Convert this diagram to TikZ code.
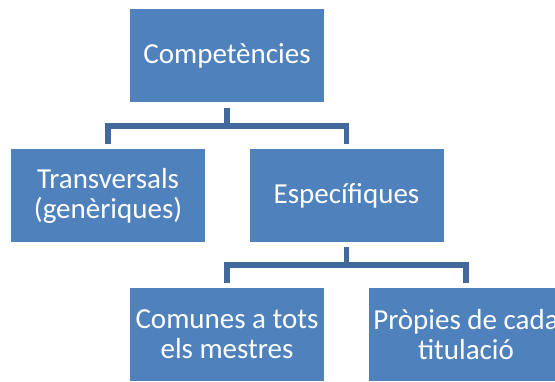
\documentclass[tikz,border=0pt]{standalone}
\usepackage{fontspec}
\setmainfont{Carlito}
\definecolor{boxblue}{HTML}{4F81BD}
\definecolor{lineblue}{HTML}{41699B}

\begin{document}
\begin{tikzpicture}[x=0.75pt, y=-0.75pt,
    every node/.style={font=\fontsize{21.75}{22.5}\selectfont},
    box/.style={rectangle, fill=boxblue, text=white, align=center,
        minimum width=145.5pt, minimum height=69.75pt, inner xsep=0pt},
    conn/.style={draw=lineblue, line width=4.2pt, shorten <=3.75pt, shorten >=3.75pt}]
    \useasboundingbox (0,0) rectangle (555,381);
    \node[box] (comp) at (227,56) {Competències};
    \node[box] (trans) at (108,195.5) {Transversals\\(genèriques)};
    \node[box] (espec) at (346.5,195.5) {Específiques};
    \node[box] (comu) at (227,334.5) {Comunes a tots\\els mestres};
    \node[box] (prop) at (466,334.5) {Pròpies de cada\\titulació};
    \foreach \c in {trans,espec} {
        \draw[conn] (comp.south) -- ++(0,23) -| (\c.north);
    }
    \foreach \c in {comu,prop} {
        \draw[conn] (espec.south) -- ++(0,23) -| (\c.north);
    }
\end{tikzpicture}
\end{document}
